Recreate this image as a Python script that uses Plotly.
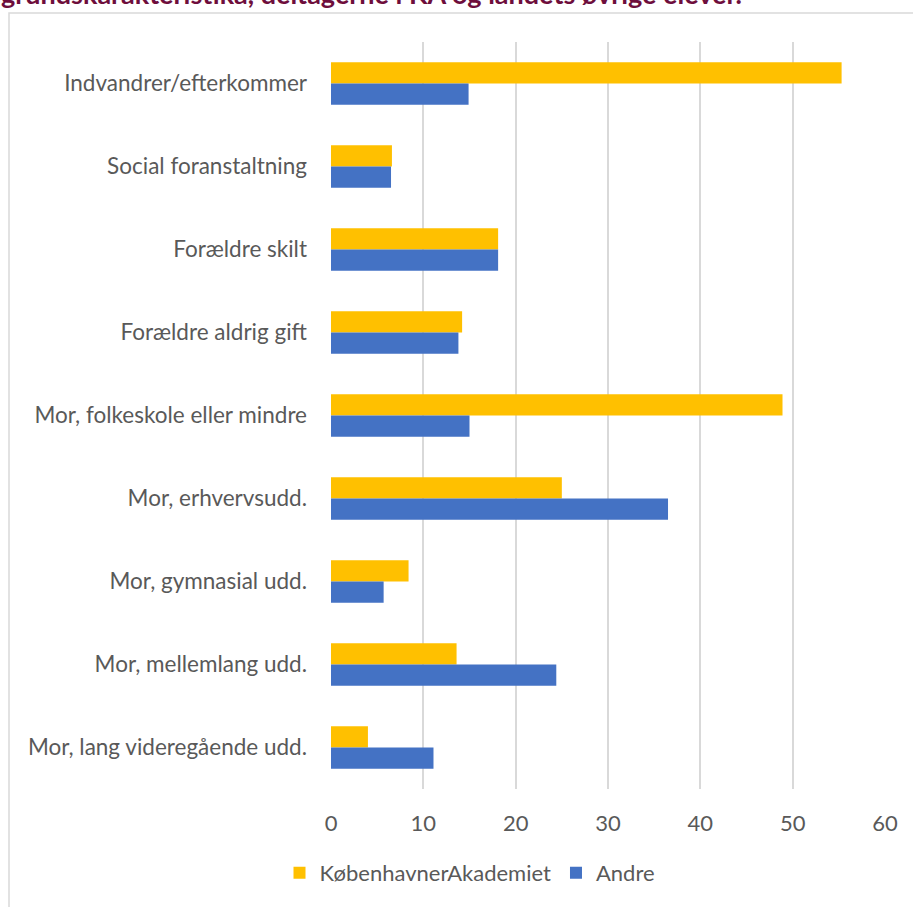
import plotly.graph_objects as go

categories = [
    "Indvandrer/efterkommer",
    "Social foranstaltning",
    "Forældre skilt",
    "Forældre aldrig gift",
    "Mor, folkeskole eller mindre",
    "Mor, erhvervsudd.",
    "Mor, gymnasial udd.",
    "Mor, mellemlang udd.",
    "Mor, lang videregående udd.",
]
ka_values = [55.3, 6.6, 18.1, 14.2, 48.9, 25.0, 8.4, 13.6, 4.0]
andre_values = [14.9, 6.5, 18.1, 13.8, 15.0, 36.5, 5.7, 24.4, 11.1]
x_ticks = [0, 10, 20, 30, 40, 50, 60]
series_names = ["KøbenhavnerAkademiet", "Andre"]
title_text = "grundskarakteristika, deltagerne i KA og landets øvrige elever."

FONT = "Lato"
W, H = 913, 907
L, R, T, B = 331, 28, 42, 118
pw, ph = W - L - R, H - T - B

def px_x(px):
    return (px - L) / pw

def px_y(py):
    return (H - B - py) / ph

fig = go.Figure()
fig.add_trace(go.Bar(y=categories, x=ka_values, orientation="h", name=series_names[0],
                     marker=dict(color="#FFC000", line=dict(width=0))))
fig.add_trace(go.Bar(y=categories, x=andre_values, orientation="h", name=series_names[1],
                     marker=dict(color="#4472C4", line=dict(width=0))))

fig.update_layout(
    width=W, height=H,
    margin=dict(l=L, r=R, t=T, b=B, autoexpand=False),
    paper_bgcolor="white", plot_bgcolor="white",
    barmode="group", bargap=0.49, bargroupgap=0,
    font=dict(family=FONT, color="#595959", size=22),
    showlegend=True,
    legend=dict(orientation="h", x=px_x(470), y=px_y(873), xanchor="center", yanchor="middle",
                font=dict(size=22, color="#595959"), itemwidth=30, traceorder="normal"),
    xaxis=dict(range=[0, 60], tickvals=x_ticks, showgrid=True, gridcolor="#D9D9D9", gridwidth=1.5,
               zeroline=False, showline=False, ticks="", ticklabelstandoff=19,
               tickfont=dict(size=22, color="#595959"), fixedrange=True),
    yaxis=dict(autorange="reversed", showgrid=False, zeroline=False, showline=False, ticks="",
               ticklabelstandoff=23, tickfont=dict(size=22.5, color="#595959")),
    shapes=[dict(type="rect", xref="paper", yref="paper",
                 x0=px_x(9), x1=px_x(960), y0=px_y(960), y1=px_y(13),
                 line=dict(color="#D9D9D9", width=1.5), fillcolor="rgba(0,0,0,0)", layer="below")],
    annotations=[dict(text="<b>" + title_text + "</b>", xref="paper", yref="paper",
                      x=px_x(-1), y=px_y(12), xanchor="left", yanchor="bottom", showarrow=False,
                      font=dict(family=FONT, size=27, color="#6E0E3C"))],
)

fig.write_html("out.html", config={"displayModeBar": False},
               post_script="document.body.style.margin='0';")
